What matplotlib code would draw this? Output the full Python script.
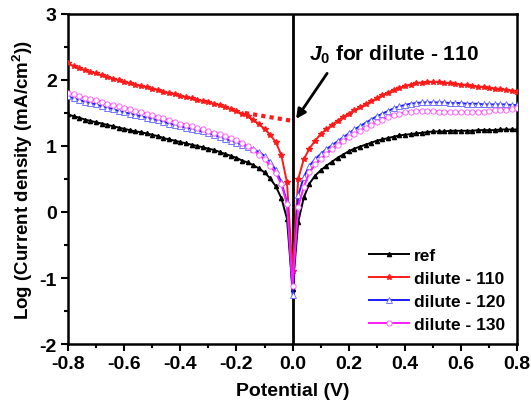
import numpy as np
import matplotlib
matplotlib.use("Agg")
import matplotlib.pyplot as plt
from matplotlib.ticker import MultipleLocator

plt.rcParams['font.family'] = ['Liberation Sans', 'DejaVu Sans']
plt.rcParams['font.weight'] = 'bold'
plt.rcParams['mathtext.fontset'] = 'custom'
plt.rcParams['mathtext.it'] = 'Liberation Sans:italic:bold'
plt.rcParams['mathtext.rm'] = 'Liberation Sans:bold'
plt.rcParams['mathtext.bf'] = 'Liberation Sans:bold'

# Potential (V), -0.80 .. 0.80 in 0.02 V steps
potential = [round(-0.80 + 0.02 * i, 2) for i in range(81)]

ref = [1.48, 1.45, 1.43, 1.40, 1.38, 1.36, 1.34, 1.32, 1.30, 1.28,
       1.26, 1.24, 1.22, 1.21, 1.19, 1.17, 1.15, 1.12, 1.10, 1.08,
       1.06, 1.04, 1.02, 1.00, 0.98, 0.96, 0.94, 0.91, 0.88, 0.85,
       0.82, 0.78, 0.75, 0.71, 0.66, 0.60, 0.51, 0.39, 0.21, -0.10,
       -1.17,
       -0.15, 0.22, 0.43, 0.55, 0.63, 0.70, 0.76, 0.82, 0.87, 0.92,
       0.96, 0.99, 1.02, 1.05, 1.08, 1.10, 1.12, 1.14, 1.16, 1.17,
       1.18, 1.19, 1.20, 1.21, 1.22, 1.22, 1.22, 1.23, 1.23, 1.23,
       1.23, 1.23, 1.24, 1.24, 1.24, 1.24, 1.25, 1.25, 1.25, 1.25]

dilute_110 = [2.25, 2.21, 2.18, 2.15, 2.12, 2.10, 2.07, 2.05, 2.02, 2.00,
              1.97, 1.95, 1.93, 1.91, 1.89, 1.87, 1.85, 1.82, 1.80, 1.78,
              1.76, 1.74, 1.72, 1.70, 1.68, 1.66, 1.64, 1.62, 1.59, 1.56,
              1.53, 1.49, 1.45, 1.40, 1.33, 1.26, 1.17, 1.06, 0.86, 0.45,
              -0.90,
              0.50, 0.80, 0.96, 1.08, 1.18, 1.25, 1.32, 1.38, 1.44, 1.49,
              1.54, 1.59, 1.63, 1.68, 1.72, 1.77, 1.81, 1.85, 1.88, 1.91,
              1.93, 1.95, 1.96, 1.97, 1.97, 1.97, 1.96, 1.95, 1.94, 1.93,
              1.92, 1.91, 1.90, 1.89, 1.88, 1.87, 1.86, 1.85, 1.84, 1.82]

dilute_120 = [1.75, 1.72, 1.70, 1.67, 1.65, 1.63, 1.60, 1.58, 1.56, 1.53,
              1.51, 1.49, 1.47, 1.45, 1.43, 1.41, 1.39, 1.37, 1.34, 1.32,
              1.30, 1.28, 1.26, 1.24, 1.22, 1.19, 1.17, 1.14, 1.11, 1.08,
              1.05, 1.02, 0.99, 0.95, 0.91, 0.85, 0.76, 0.64, 0.45, 0.15,
              -1.25,
              0.25, 0.53, 0.70, 0.80, 0.88, 0.95, 1.01, 1.07, 1.13, 1.19,
              1.25, 1.30, 1.35, 1.40, 1.45, 1.49, 1.53, 1.57, 1.60, 1.62,
              1.64, 1.65, 1.66, 1.66, 1.66, 1.66, 1.66, 1.65, 1.65, 1.65,
              1.64, 1.64, 1.64, 1.63, 1.63, 1.63, 1.63, 1.63, 1.62, 1.62]

dilute_130 = [1.80, 1.78, 1.75, 1.73, 1.71, 1.69, 1.67, 1.64, 1.62, 1.60,
              1.58, 1.56, 1.53, 1.51, 1.49, 1.47, 1.44, 1.42, 1.39, 1.37,
              1.34, 1.32, 1.30, 1.27, 1.25, 1.22, 1.20, 1.18, 1.15, 1.12,
              1.09, 1.05, 1.00, 0.94, 0.87, 0.80, 0.70, 0.59, 0.42, 0.12,
              -1.12,
              0.08, 0.38, 0.60, 0.72, 0.80, 0.88, 0.95, 1.02, 1.08, 1.13,
              1.18, 1.23, 1.28, 1.32, 1.36, 1.40, 1.44, 1.47, 1.49, 1.51,
              1.52, 1.53, 1.53, 1.53, 1.53, 1.52, 1.52, 1.51, 1.51, 1.51,
              1.51, 1.51, 1.52, 1.52, 1.53, 1.54, 1.54, 1.55, 1.56, 1.57]

# Tafel extrapolation for dilute - 110
tafel_x = [-0.17, 0.0]
tafel_y = [1.50, 1.38]

labels = ['ref', 'dilute - 110', 'dilute - 120', 'dilute - 130']

fig = plt.figure(figsize=(5.31, 4.10), dpi=100)
ax = fig.add_axes([0.128, 0.1585, 0.846, 0.805])

ax.axvline(0, color='black', lw=2, zorder=1)

ax.plot(potential, ref, color='black', lw=1.4, marker='^', ms=3,
        mfc='black', mec='black', label=labels[0], zorder=3)
ax.plot(potential, dilute_110, color='#ff1a1a', lw=1.4, marker='*', ms=4,
        mfc='#ff1a1a', mec='#ff1a1a', label=labels[1], zorder=3)
ax.plot(tafel_x, tafel_y, color='#ff1a1a', lw=3, ls=(0, (1, 1)), zorder=2)
ax.plot(potential, dilute_120, color='#1a1aff', lw=1.4, marker='^', ms=3.8,
        mfc='white', mec='#6060ff', mew=0.6, label=labels[2], zorder=3)
ax.plot(potential, dilute_130, color='#ff1aff', lw=1.4, marker='o', ms=3.8,
        mfc='white', mec='#ff50ff', mew=0.6, label=labels[3], zorder=3)

ax.set_xlim(-0.8, 0.8)
ax.set_ylim(-2, 3)
ax.xaxis.set_minor_locator(MultipleLocator(0.1))
ax.yaxis.set_minor_locator(MultipleLocator(0.5))
ax.set_xticks([round(v, 1) for v in np.arange(-0.8, 0.81, 0.2)])
ax.set_xticklabels(['-0.8', '-0.6', '-0.4', '-0.2', '0.0', '0.2', '0.4', '0.6', '0.8'])
ax.set_yticks([-2, -1, 0, 1, 2, 3])
ax.set_yticklabels(['-2', '-1', '0', '1', '2', '3'])
ax.tick_params(which='major', direction='out', length=5, width=1.5,
               labelsize=14, top=False, right=False, pad=3)
ax.tick_params(which='minor', direction='out', length=3, width=1.5,
               top=False, right=False)
for s in ax.spines.values():
    s.set_linewidth(1.8)

ax.set_xlabel('Potential (V)', fontsize=14, fontweight='bold', labelpad=7)
ax.set_ylabel('Log (Current density (mA/cm$^{2}$))', fontsize=13.5,
              fontweight='bold', labelpad=3)

ax.annotate('', xy=(0.0125, 1.41), xytext=(0.123, 2.10),
            arrowprops=dict(arrowstyle='-|>', color='black', lw=2,
                            mutation_scale=14, shrinkA=0, shrinkB=0))
ax.text(0.06, 2.39, '$J_0$ for dilute - 110', fontsize=15,
        fontweight='bold', va='center', ha='left')

leg = ax.legend(loc='lower right', frameon=False, fontsize=12.5,
                handlelength=2.3, handletextpad=0.3, labelspacing=0.45,
                borderaxespad=0.3)

fig.savefig('out.png', dpi=100)
